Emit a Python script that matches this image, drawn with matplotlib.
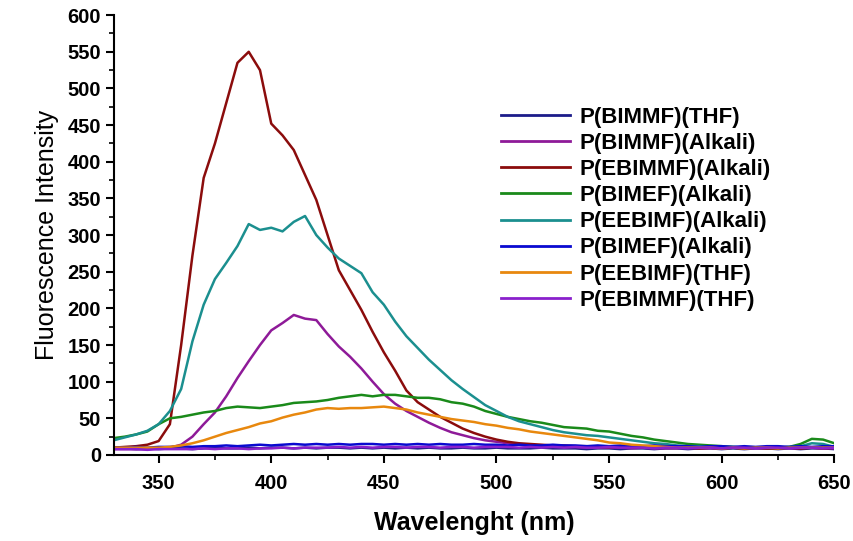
"""Fluorescence spectra of the polymer samples (THF vs alkali)."""
import matplotlib
matplotlib.use("Agg")
import matplotlib.pyplot as plt
from matplotlib.ticker import MultipleLocator

plt.rcParams['font.family'] = ['Liberation Sans', 'DejaVu Sans']

# wavelength grid, 5 nm steps from 330 to 650
wavelength = list(range(330, 651, 5))

# values
bimmf_thf = [9, 9, 8, 9, 8, 9, 9, 8, 9, 10,
             9, 9, 10, 9, 10, 10, 9, 10, 9, 10,
             10, 9, 10, 9, 10, 9, 10, 9, 10, 9,
             9, 10, 9, 9, 10, 9, 9, 9, 10, 9,
             9, 9, 8, 9, 9, 8, 9, 9, 8, 9,
             9, 8, 9, 9, 8, 9, 8, 9, 9, 8,
             9, 8, 9, 9, 8]
bimmf_alk = [8, 8, 8, 8, 9, 10, 14, 25, 42, 58,
             80, 105, 128, 150, 170, 180, 191, 186, 184, 165,
             148, 134, 118, 100, 83, 70, 60, 52, 44, 37,
             31, 27, 23, 20, 18, 16, 14, 13, 12, 12,
             11, 11, 10, 10, 10, 10, 9, 10, 9, 9,
             9, 10, 9, 9, 9, 10, 9, 9, 9, 10,
             9, 9, 10, 9, 9]
ebimmf_alk = [10, 11, 12, 14, 19, 42, 150, 272, 378, 425,
              480, 535, 550, 525, 452, 436, 416, 382, 348, 300,
              252, 225, 198, 168, 140, 115, 88, 72, 62, 52,
              44, 36, 30, 25, 21, 18, 16, 15, 14, 13,
              13, 12, 12, 11, 11, 11, 10, 10, 10, 10,
              10, 10, 9, 10, 9, 10, 9, 10, 9, 9,
              10, 9, 10, 9, 10]
bimef_alk = [23, 25, 28, 32, 42, 50, 52, 55, 58, 60,
             64, 66, 65, 64, 66, 68, 71, 72, 73, 75,
             78, 80, 82, 80, 82, 82, 80, 78, 78, 76,
             72, 70, 66, 60, 56, 52, 49, 46, 44, 41,
             38, 37, 36, 33, 32, 29, 26, 24, 21, 19,
             17, 15, 14, 13, 12, 11, 10, 10, 10, 10,
             11, 15, 22, 21, 16]
eebimf_alk = [20, 24, 28, 33, 42, 60, 90, 155, 205, 240,
              262, 285, 315, 307, 310, 305, 318, 326, 300, 283,
              268, 258, 248, 222, 205, 182, 162, 146, 130, 116,
              102, 90, 79, 68, 60, 52, 46, 42, 38, 34,
              31, 29, 27, 26, 24, 22, 20, 18, 16, 15,
              13, 12, 12, 11, 11, 11, 10, 10, 10, 10,
              11, 12, 16, 15, 11]
bimef_alk2 = [10, 10, 11, 10, 11, 11, 12, 11, 12, 12,
              13, 12, 13, 14, 13, 14, 15, 14, 15, 14,
              15, 14, 15, 15, 14, 15, 14, 15, 14, 15,
              14, 14, 15, 14, 14, 13, 14, 13, 13, 14,
              13, 13, 12, 13, 12, 13, 12, 12, 13, 12,
              12, 12, 11, 12, 12, 11, 12, 11, 12, 12,
              11, 12, 11, 12, 12]
eebimf_thf = [10, 10, 10, 10, 10, 11, 13, 16, 20, 25,
              30, 34, 38, 43, 46, 51, 55, 58, 62, 64,
              63, 64, 64, 65, 66, 64, 62, 58, 55, 52,
              49, 47, 45, 42, 40, 37, 35, 32, 30, 28,
              26, 24, 22, 20, 17, 16, 14, 13, 12, 11,
              10, 10, 10, 10, 9, 10, 9, 10, 10, 9,
              10, 10, 10, 10, 10]
ebimmf_thf = [8, 8, 8, 7, 8, 8, 8, 8, 9, 8,
              9, 9, 8, 9, 9, 10, 9, 10, 10, 10,
              11, 10, 11, 10, 11, 11, 10, 11, 11, 10,
              11, 11, 10, 11, 11, 11, 10, 11, 10, 11,
              10, 11, 10, 10, 11, 10, 10, 10, 9, 10,
              10, 9, 10, 10, 9, 10, 10, 9, 10, 10,
              9, 10, 10, 9, 10]

labels = ["P(BIMMF)(THF)", "P(BIMMF)(Alkali)", "P(EBIMMF)(Alkali)",
          "P(BIMEF)(Alkali)", "P(EEBIMF)(Alkali)", "P(BIMEF)(Alkali)",
          "P(EEBIMF)(THF)", "P(EBIMMF)(THF)"]
series = [bimmf_thf, bimmf_alk, ebimmf_alk, bimef_alk,
          eebimf_alk, bimef_alk2, eebimf_thf, ebimmf_thf]
colors = ["#1c1c8a", "#8e1a98", "#8b0c0c", "#1a8a1a",
          "#1b8f8f", "#0a0ad0", "#e8880e", "#8a20cc"]

fig = plt.figure(figsize=(8.54, 5.41), dpi=100)
ax = fig.add_axes([0.133, 0.159, 0.844, 0.813])

for y, lab, col in zip(series, labels, colors):
    ax.plot(wavelength, y, color=col, lw=1.8, label=lab)

ax.set_xlim(330, 650)
ax.set_ylim(0, 600)
ax.xaxis.set_major_locator(MultipleLocator(50))
ax.xaxis.set_minor_locator(MultipleLocator(25))
ax.yaxis.set_major_locator(MultipleLocator(50))
ax.yaxis.set_minor_locator(MultipleLocator(25))

for s in ["top", "right"]:
    ax.spines[s].set_visible(False)
for s in ["left", "bottom"]:
    ax.spines[s].set_linewidth(1.5)

ax.tick_params(which="major", direction="out", length=5.5, width=1.5, labelsize=14.5)
ax.tick_params(axis="x", which="major", pad=8)
ax.tick_params(which="minor", direction="out", length=3.5, width=1.2)
for t in ax.get_xticklabels() + ax.get_yticklabels():
    t.set_fontweight("bold")

ax.set_xlabel("Wavelenght (nm)", fontsize=18, fontweight="bold", labelpad=13)
ax.set_ylabel("Fluorescence Intensity", fontsize=18, labelpad=6)

leg = ax.legend(loc="upper left", bbox_to_anchor=(0.574, 0.823),
                bbox_transform=fig.transFigure, frameon=False,
                handlelength=3.1, handletextpad=0.42, labelspacing=0.23,
                borderpad=0, prop={"size": 16, "weight": "bold"})
for line in leg.get_lines():
    line.set_linewidth(2)

fig.savefig("out.png", dpi=100)
